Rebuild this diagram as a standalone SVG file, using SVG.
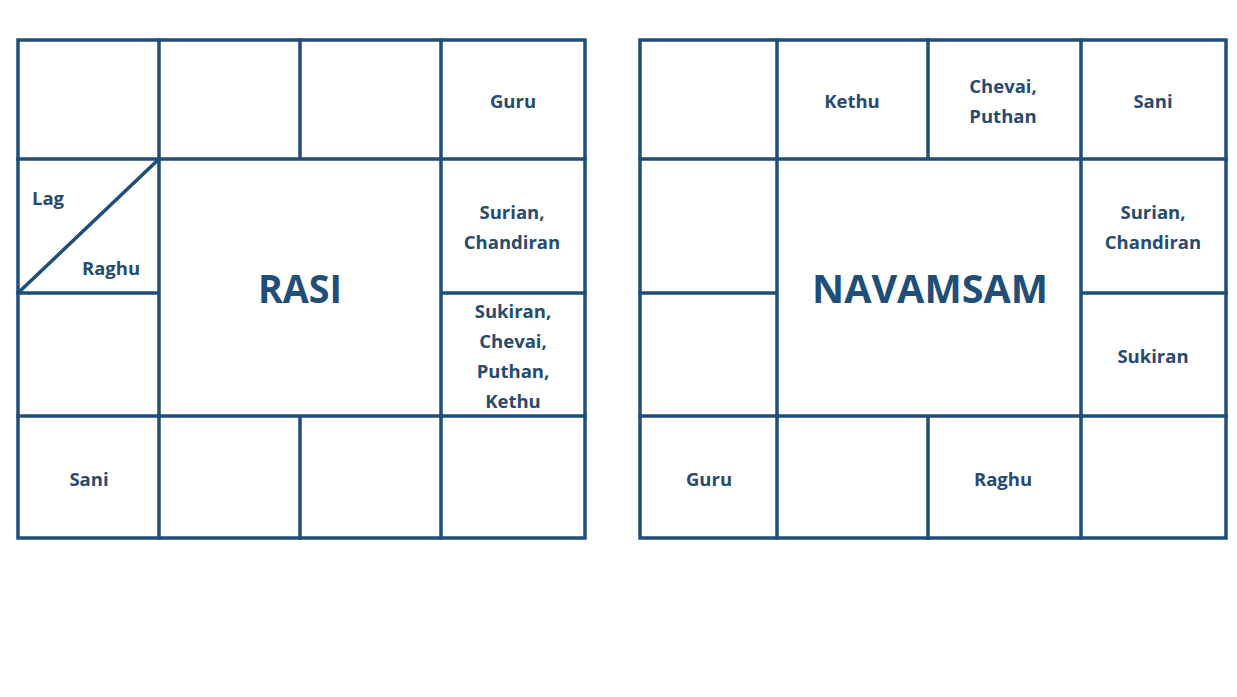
<svg xmlns="http://www.w3.org/2000/svg" width="1237" height="697" viewBox="0 0 1237 697">
<style>
.ln{stroke:#1f4e79;stroke-width:3.5;fill:none;stroke-linecap:square}
.t{font-family:"Open Sans","Liberation Sans",sans-serif;font-weight:bold;font-size:18.5px;fill:#284a6e;text-anchor:middle}
.big{font-family:"Open Sans","Liberation Sans",sans-serif;font-weight:bold;font-size:39px;fill:#1f4e79;text-anchor:middle}
</style>
<rect width="1237" height="697" fill="#ffffff"/>
<g id="rasi-grid">
<rect class="ln" x="18" y="40" width="567" height="498"/>
<path class="ln" d="M159 40V538M441 40V538M300 40V159M300 416V538M18 159H585M18 416H585M18 293H159M441 293H585M18 293L159 159"/>
</g>
<g id="navamsam-grid">
<rect class="ln" x="640" y="40" width="586" height="498"/>
<path class="ln" d="M777 40V538M1081 40V538M928 40V159M928 416V538M640 159H1226M640 416H1226M640 293H777M1081 293H1226"/>
</g>
<g id="rasi-labels">
<g id="rasi-title"><text class="big" x="300" y="303" textLength="84" lengthAdjust="spacingAndGlyphs">RASI</text></g>
<g id="rasi-guru"><text class="t" x="513" y="108">Guru</text></g>
<g id="rasi-lag"><text class="t" x="48" y="205">Lag</text></g>
<g id="rasi-raghu"><text class="t" x="111" y="275">Raghu</text></g>
<g id="rasi-surian"><text class="t" x="512" y="219">Surian,</text><text class="t" x="512" y="249">Chandiran</text></g>
<g id="rasi-sukiran"><text class="t" x="513" y="318">Sukiran,</text><text class="t" x="513" y="348">Chevai,</text><text class="t" x="513" y="378">Puthan,</text><text class="t" x="513" y="408">Kethu</text></g>
<g id="rasi-sani"><text class="t" x="89" y="486">Sani</text></g>
</g>
<g id="navamsam-labels">
<g id="nav-title"><text class="big" x="930" y="303" textLength="236" lengthAdjust="spacingAndGlyphs">NAVAMSAM</text></g>
<g id="nav-kethu"><text class="t" x="852" y="108">Kethu</text></g>
<g id="nav-chevai"><text class="t" x="1003" y="93">Chevai,</text><text class="t" x="1003" y="123">Puthan</text></g>
<g id="nav-sani"><text class="t" x="1153" y="108">Sani</text></g>
<g id="nav-surian"><text class="t" x="1153" y="219">Surian,</text><text class="t" x="1153" y="249">Chandiran</text></g>
<g id="nav-sukiran"><text class="t" x="1153" y="363">Sukiran</text></g>
<g id="nav-guru"><text class="t" x="709" y="486">Guru</text></g>
<g id="nav-raghu"><text class="t" x="1003" y="486">Raghu</text></g>
</g>
</svg>
